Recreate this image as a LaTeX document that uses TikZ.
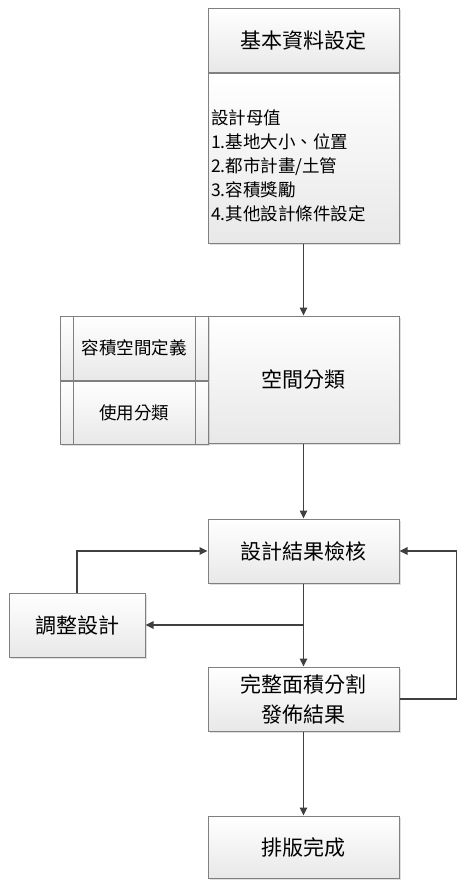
\documentclass[tikz,border=0pt]{standalone}
\usepackage{fontspec}
\setmainfont{Noto Sans CJK TC}
\usetikzlibrary{arrows.meta,positioning,shadows}

\begin{document}
\begin{tikzpicture}[
  x=1pt, y=-1pt,
  box/.style={rectangle, draw=black!50, line width=1pt, top color=white, bottom color=black!9,
              drop shadow={shadow xshift=1.5pt, shadow yshift=-1.5pt, opacity=0.25},
              minimum width=191pt, minimum height=64pt, align=center, inner sep=2pt,
              font=\fontsize{21}{30}\selectfont},
  cell/.style={box, minimum width=148pt, font=\fontsize{17.5}{22}\selectfont},
  arr/.style={-{Triangle[length=8pt,width=7.5pt]}, line width=1.5pt, black!75}
]
\useasboundingbox (0,0) rectangle (466,886);
\node[box] (hdr) at (303.5,40) {基本資料設定};
\node[box, below=0pt of hdr, minimum height=170pt, text width=185pt, inner xsep=3pt,
      align=left, font=\fontsize{17.5}{24}\selectfont] (params)
  {\mbox{}\\[7pt]設計母值\\1.基地大小、位置\\2.都市計畫/土管\\3.容積獎勵\\4.其他設計條件設定};
\node[box, minimum height=127pt] (space) at (303.5,379.5) {空間分類};
\node[cell, minimum height=64pt] (cellA) at (134,348) {容積空間定義};
\node[cell, below=0pt of cellA, minimum height=63pt] (cellB) {使用分類};
\foreach \dx in {14,136}
  \draw[black!50, line width=1pt] ([xshift=\dx pt]cellA.north west) -- ([xshift=\dx pt]cellB.south west);
\node[box] (check) at (303.5,551) {設計結果檢核};
\node[box, minimum width=136pt] (adjust) at (77,625) {調整設計};
\node[box] (final) at (303.5,699) {完整面積分割\\發佈結果};
\node[box, minimum height=62pt] (done) at (303.5,847) {排版完成};
\coordinate (split) at (check.south |- adjust.east);
\coordinate (loop) at ([xshift=57pt]final.east);
\foreach \a/\b in {params/space,space/check,check/final,final/done}
  \draw[arr] (\a) -- (\b);
\draw[arr] (split) -- (adjust);
\draw[arr] (adjust.north) |- (check.west);
\draw[arr] (final.east) -- (loop) |- (check.east);
\end{tikzpicture}
\end{document}
